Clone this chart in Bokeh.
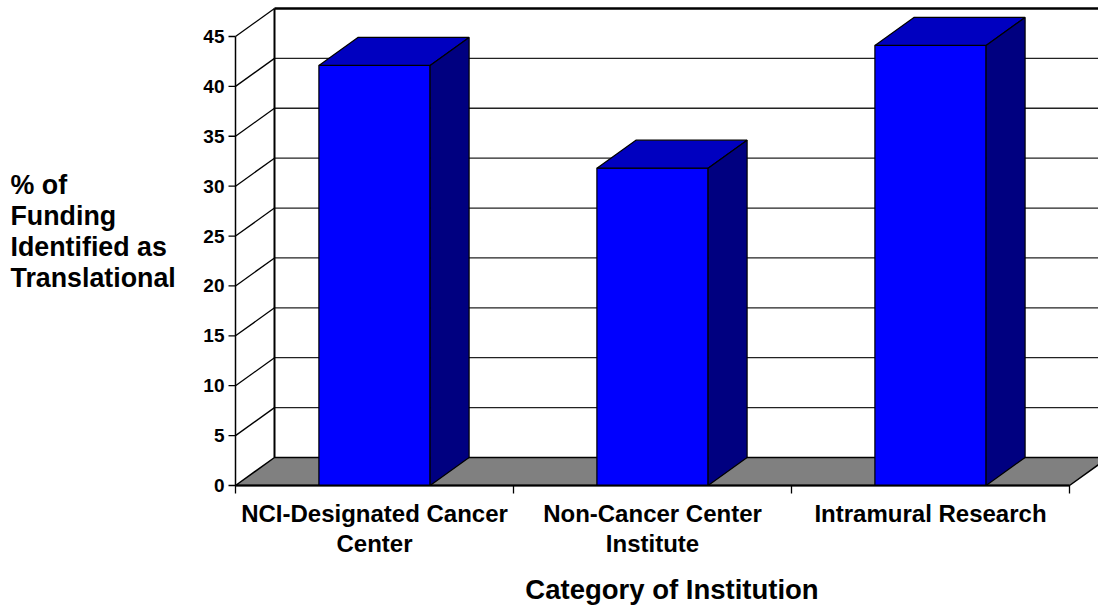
from bokeh.plotting import figure
from bokeh.models import Range1d
from bokeh.core.properties import value
from bokeh.embed import file_html
from bokeh.resources import INLINE

# ---- data ----
categories = ["NCI-Designated Cancer\nCenter", "Non-Cancer Center\nInstitute", "Intramural Research"]
values = [42.1, 31.8, 44.1]
y_ticks = [0, 5, 10, 15, 20, 25, 30, 35, 40, 45]
y_tick_labels = [str(v) for v in y_ticks]
y_title_lines = ["% of", "Funding", "Identified as", "Translational"]
x_title = "Category of Institution"

# ---- layout / style constants ----
W, H = 1098, 609
PX_X = 278.0          # pixels per category
PX_Y = 9.978          # pixels per value unit
ORIGIN_X, ORIGIN_Y = 235, 485   # pixel position of (0, 0)
DX = 39 / PX_X        # depth offset (category units)
DY = 28 / PX_Y        # depth offset (value units)
BAR_L, BAR_R = 0.3, 0.7
YMAX = y_ticks[-1]
NCAT = len(categories)
FONT = value("Liberation Sans")

def px_x(px):  # horizontal pixel distance -> data units
    return px / PX_X

def px_y(px):  # vertical pixel distance -> data units
    return px / PX_Y

x0 = -px_x(ORIGIN_X)
y0 = -px_y(H - ORIGIN_Y)
p = figure(width=W, height=H,
           x_range=Range1d(x0, x0 + px_x(W)), y_range=Range1d(y0, y0 + px_y(H)),
           x_axis_type=None, y_axis_type=None,
           output_backend="svg", toolbar_location=None,
           min_border=0, min_border_left=0, min_border_right=0,
           min_border_top=0, min_border_bottom=0)
p.grid.visible = False
p.outline_line_color = None

# floor
p.patch([0, NCAT, NCAT + DX, DX], [0, 0, DY, DY],
        fill_color="#808080", line_color="black", line_width=1.5)

# back wall gridlines
inner = [v for v in y_ticks if 0 < v < YMAX]
p.segment(x0=[DX] * len(inner), y0=[v + DY for v in inner],
          x1=[NCAT + 1] * len(inner), y1=[v + DY for v in inner],
          line_color="#222222", line_width=1.3)
p.segment(x0=[DX], y0=[YMAX + DY], x1=[NCAT + 1], y1=[YMAX + DY],
          line_color="black", line_width=2.5)
# side wall diagonals
side = [v for v in y_ticks if v > 0]
p.segment(x0=[0] * len(side), y0=side, x1=[DX] * len(side), y1=[v + DY for v in side],
          line_color="black", line_width=1.3)
# back-left vertical edge
p.segment(x0=[DX], y0=[DY], x1=[DX], y1=[YMAX + DY], line_color="black", line_width=2)

# bars
lefts = [i + BAR_L for i in range(NCAT)]
rights = [i + BAR_R for i in range(NCAT)]
p.quad(left=lefts, right=rights, bottom=[0] * NCAT, top=values,
       fill_color="#0000FF", line_color="black", line_width=1.2)
top_xs = [[l, r, r + DX, l + DX] for l, r in zip(lefts, rights)]
top_ys = [[v, v, v + DY, v + DY] for v in values]
p.patches(top_xs, top_ys, fill_color="#0000C0", line_color="black", line_width=1.2)
side_xs = [[r, r + DX, r + DX, r] for r in rights]
side_ys = [[0, DY, v + DY, v] for v in values]
p.patches(side_xs, side_ys, fill_color="#000080", line_color="black", line_width=1.2)

# front value axis: line, ticks, labels
p.segment(x0=[0], y0=[0], x1=[0], y1=[YMAX], line_color="black", line_width=1.5)
p.segment(x0=[-px_x(7)] * len(y_ticks), y0=y_ticks, x1=[0] * len(y_ticks), y1=y_ticks,
          line_color="black", line_width=1.3)
p.text(x=[-px_x(11)] * len(y_ticks), y=y_ticks, text=y_tick_labels,
       text_font=FONT, text_font_style="bold", text_font_size="19px",
       text_color="black", text_align="right", text_baseline="middle")

# category axis: line, ticks, labels
p.segment(x0=[0], y0=[0], x1=[NCAT], y1=[0], line_color="black", line_width=2)
bounds = list(range(NCAT + 1))
p.segment(x0=bounds, y0=[0] * len(bounds), x1=bounds, y1=[-px_y(8)] * len(bounds),
          line_color="black", line_width=1.3)
cx, cy, ct = [], [], []
for i, cat in enumerate(categories):
    for k, line in enumerate(cat.split("\n")):
        cx.append(i + 0.5)
        cy.append(-px_y(28 + 30 * k))
        ct.append(line)
p.text(x=cx, y=cy, text=ct, text_font=FONT, text_font_style="bold",
       text_font_size="24px", text_color="black",
       text_align="center", text_baseline="alphabetic")

# axis titles
p.text(x=[(NCAT + DX) / 2], y=[-px_y(104)], text=[x_title], text_font=FONT,
       text_font_style="bold", text_font_size="27.5px", text_color="black",
       text_align="center", text_baseline="alphabetic")
p.text(x=[px_x(10) - px_x(ORIGIN_X)] * len(y_title_lines),
       y=[px_y(ORIGIN_Y - 184 - 31.3 * k) for k in range(len(y_title_lines))],
       text=y_title_lines, text_font=FONT, text_font_style="bold",
       text_font_size="26.8px", text_color="black",
       text_align="left", text_baseline="alphabetic")

open("out.html", "w").write(file_html(p, INLINE))
